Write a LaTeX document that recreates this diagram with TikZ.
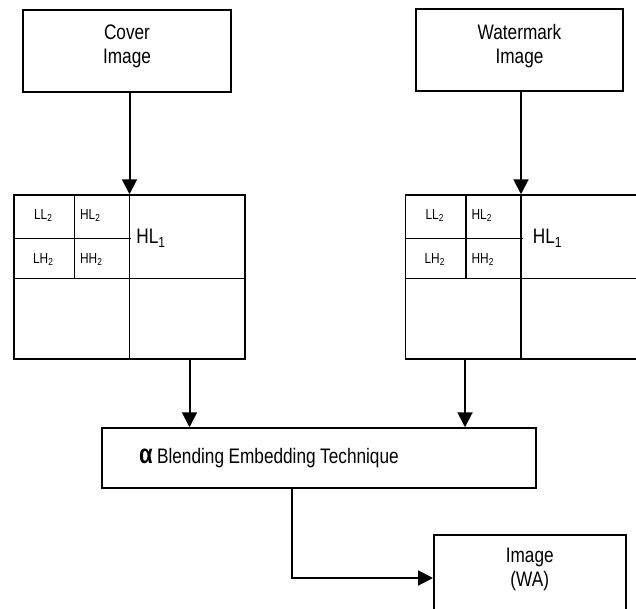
\documentclass[tikz,border=0pt]{standalone}
\usepackage{fontspec}
\setmainfont[FakeStretch=0.82]{Liberation Sans}
\usetikzlibrary{arrows.meta, positioning}

\begin{document}
\begin{tikzpicture}[
        x=1pt, y=-1pt,
        every node/.style={font=\fontsize{21}{24}\selectfont},
        box/.style={draw, line width=1.5pt, align=center},
        band/.style={font=\fontsize{14.5}{16}\selectfont, inner sep=0pt},
        flow/.style={line width=2pt, -{Triangle[width=15pt, length=15pt]}}
        ]
    \path[use as bounding box, clip] (0,0) rectangle (636,608);

    \node[box, minimum width=208pt, minimum height=82pt, text depth=13pt] (cover) at (127,51) {Cover\\Image};
    \node[box, minimum width=207pt, minimum height=82pt, text depth=13pt] (wmark) at (519.5,50) {Watermark\\Image};
    \node[box, minimum width=231pt, minimum height=164pt] (cgrid) at (129.5,277) {};
    \node[box, minimum width=231pt, minimum height=164pt, right=159pt of cgrid] (wgrid) {};
    \node[box, text width=360pt, inner xsep=37pt, minimum height=60pt, align=left] (blend) at (319,458)
        {\spaceskip=4.5pt{\fontsize{27}{24}\selectfont\bfseries α} Blending Embedding Technique};
    \node[box, anchor=north west, minimum width=192pt, inner ysep=13pt, text depth=80pt] (out) at (433,534) {Image\\(WA)};

    % sub-bands
    \foreach \g/\h in {cgrid/123pt, wgrid/128pt} {
        \draw[line width=1.5pt] (\g.north) -- (\g.south);
        \draw[line width=1.5pt] ([yshift=-84pt]\g.north west) -- ([yshift=-84pt]\g.north east);
        \draw[line width=1.5pt] ([xshift=61pt]\g.north west) -- ([xshift=61pt, yshift=-84pt]\g.north west);
        \draw[line width=1.5pt] ([yshift=-44pt]\g.north west) -- ([xshift=118pt, yshift=-44pt]\g.north west);
        \node[band] (\g-ll) at ([xshift=30pt, yshift=-21pt]\g.north west) {LL\textsubscript{2}};
        \node[band] (\g-hl) at ([xshift=77pt, yshift=-21pt]\g.north west) {HL\textsubscript{2}};
        \node[band] (\g-lh) at ([xshift=30pt, yshift=-65pt]\g.north west) {LH\textsubscript{2}};
        \node[band] (\g-hh) at ([xshift=78pt, yshift=-65pt]\g.north west) {HH\textsubscript{2}};
        \node[font=\fontsize{21}{22}\selectfont, anchor=west, inner sep=0pt] (\g-top) at ([xshift=\h, yshift=-44pt]\g.north west) {HL\textsubscript{1}};
    }

    \path[flow]
        (cover.south -| cgrid.north) edge (cgrid.north)
        (wmark.south -| wgrid.north) edge (wgrid.north)
        ([xshift=60pt]cgrid.south) edge ([xshift=60pt]cgrid.south |- blend.north)
        ([xshift=-56pt]wgrid.south) edge ([xshift=-56pt]wgrid.south |- blend.north)
        ([xshift=-27pt]blend.south) edge[to path={|- (\tikztotarget)}] ([yshift=-44pt]out.north west);
\end{tikzpicture}
\end{document}
